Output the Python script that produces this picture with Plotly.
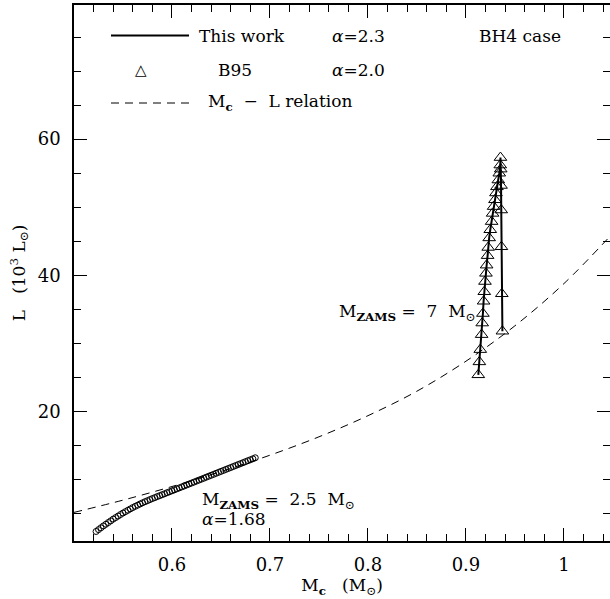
import plotly.graph_objects as go

# ---------------- data ----------------
# M_c - L relation (dashed)
rel_mc = [0.50, 0.55, 0.60, 0.65, 0.70, 0.75, 0.80, 0.85, 0.90, 0.95, 1.00, 1.05]
rel_L = [5.2, 7.0, 9.0, 11.2, 13.6, 16.3, 19.4, 23.0, 27.4, 32.6, 38.8, 46.2]

# M_ZAMS = 2.5 Msun track (open circles)
c_mc = [0.5225, 0.5250, 0.5275, 0.5300, 0.5325, 0.5350, 0.5375, 0.5400, 0.5425, 0.5450,
        0.5475, 0.5500, 0.5525, 0.5550, 0.5575, 0.5600, 0.5625, 0.5650, 0.5675, 0.5700,
        0.5725, 0.5750, 0.5775, 0.5800, 0.5825, 0.5850, 0.5875, 0.5900, 0.5925, 0.5950,
        0.5975, 0.6000, 0.6025, 0.6050, 0.6075, 0.6100, 0.6125, 0.6150, 0.6175, 0.6200,
        0.6225, 0.6250, 0.6275, 0.6300, 0.6325, 0.6350, 0.6375, 0.6400, 0.6425, 0.6450,
        0.6475, 0.6500, 0.6525, 0.6550, 0.6575, 0.6600, 0.6625, 0.6650, 0.6675, 0.6700,
        0.6725, 0.6750, 0.6775, 0.6800, 0.6825, 0.6850]
c_L = [2.40, 2.67, 2.94, 3.21, 3.46, 3.71, 3.96, 4.21, 4.44, 4.66,
       4.89, 5.11, 5.31, 5.51, 5.71, 5.91, 6.09, 6.26, 6.44, 6.61,
       6.77, 6.92, 7.08, 7.23, 7.37, 7.52, 7.66, 7.80, 7.94, 8.09,
       8.23, 8.37, 8.51, 8.66, 8.80, 8.94, 9.08, 9.23, 9.37, 9.51,
       9.65, 9.80, 9.94, 10.08, 10.22, 10.37, 10.51, 10.65, 10.79, 10.94,
       11.08, 11.22, 11.36, 11.51, 11.65, 11.79, 11.93, 12.08, 12.22, 12.36,
       12.50, 12.65, 12.79, 12.93, 13.07, 13.22]

# M_ZAMS = 7 Msun track (solid line + triangles)
t_mc = [0.9126, 0.9137, 0.9146, 0.9160, 0.9166, 0.9173, 0.9180, 0.9187, 0.9194, 0.9204,
        0.9211, 0.9221, 0.9227, 0.9237, 0.9248, 0.9262, 0.9272, 0.9282, 0.9296, 0.9306,
        0.9316, 0.9330, 0.9340, 0.9350, 0.9352, 0.9355, 0.9358, 0.9360, 0.9362, 0.9366,
        0.9372]
t_L = [25.4, 27.3, 29.1, 31.3, 33.0, 34.4, 36.2, 37.6, 39.1, 40.3,
       41.5, 42.9, 44.1, 45.5, 46.7, 47.9, 49.1, 50.1, 51.1, 52.1,
       53.0, 54.0, 55.0, 56.2, 57.3, 55.6, 53.2, 49.6, 44.2, 37.3,
       31.8]

x_ticks = [0.6, 0.7, 0.8, 0.9, 1.0]
x_ticktext = ["0.6", "0.7", "0.8", "0.9", "1"]
y_ticks = [20, 40, 60]
y_ticktext = ["20", "40", "60"]

FONT = "DejaVu Serif"
FS = 17
TFS = 18
NB = "\u00a0"

fig = go.Figure()
fig.add_trace(go.Scatter(x=rel_mc, y=rel_L, mode="lines",
                         line=dict(color="black", width=1, dash="8px,6px", shape="spline"),
                         showlegend=False, hoverinfo="skip"))
fig.add_trace(go.Scatter(x=c_mc, y=c_L, mode="markers",
                         marker=dict(symbol="circle-open", size=6, color="black",
                                     line=dict(width=1, color="black")),
                         showlegend=False))
fig.add_trace(go.Scatter(x=t_mc, y=t_L, mode="lines+markers",
                         line=dict(color="black", width=2),
                         marker=dict(symbol="triangle-up-open", size=11, color="black",
                                     line=dict(width=1, color="black")),
                         showlegend=False))

L0, R0, T0, B0 = 74, 0, 5, 58
W, H = 610, 599
PW = W - L0 - R0
PH = H - T0 - B0


def px(x):
    return (x - L0) / PW


def py(y):
    return (H - B0 - y) / PH


# legend block (drawn manually)
shapes = [
    dict(type="line", xref="paper", yref="paper", x0=px(111), x1=px(189), y0=py(35.5), y1=py(35.5),
         line=dict(color="black", width=2)),
    dict(type="line", xref="paper", yref="paper", x0=px(111), x1=px(191), y0=py(103), y1=py(103),
         line=dict(color="black", width=1, dash="8px,6px")),
]
ann = []


def txt(x, y, s, xanchor="left", xref="paper", yref="paper", size=FS):
    ann.append(dict(x=x, y=y, xref=xref, yref=yref, text=s, showarrow=False,
                    xanchor=xanchor, yanchor="middle", font=dict(family=FONT, size=size, color="black")))


txt(px(197), py(36), "This work")
txt(px(330), py(36), "<i>α</i>=2.3")
txt(px(477), py(36), "BH4 case")
txt(px(141), py(70), "△", xanchor="center", size=15)
txt(px(216), py(70), "B95")
txt(px(330), py(70), "<i>α</i>=2.0")
txt(px(206), py(102), "M<sub><b>c</b></sub>" + NB + NB + "−" + NB + NB + "L relation")

txt(0.9118, 34.6, "M<sub><b>ZAMS</b></sub>" + NB + "=" + NB + NB + "7" + NB + NB + "M<sub>⊙</sub>",
    xanchor="right", xref="x", yref="y")
txt(0.6286, 7.0, "M<sub><b>ZAMS</b></sub>" + NB + "=" + NB + NB + "2.5" + NB + NB + "M<sub>⊙</sub>",
    xref="x", yref="y")
txt(0.6286, 4.2, "<i>α</i>=1.68", xref="x", yref="y")

axis_common = dict(showline=True, linecolor="black", linewidth=1.5, mirror="allticks",
                   ticks="inside", ticklen=13, tickwidth=1.2, tickcolor="black",
                   showgrid=False, zeroline=False,
                   tickfont=dict(family=FONT, size=TFS, color="black"))

fig.update_xaxes(range=[0.5, 1.047], tickmode="array", tickvals=x_ticks, ticktext=x_ticktext,
                 minor=dict(ticks="inside", ticklen=7, tickwidth=1.2, tickcolor="black",
                            tickmode="linear", tick0=0.5, dtick=0.02),
                 ticklabelstandoff=7,
                 title=dict(text="M<sub><b>c</b></sub>" + NB * 3 + "(M<sub>⊙</sub>)",
                            font=dict(family=FONT, size=FS, color="black"), standoff=2),
                 **axis_common)
fig.update_yaxes(range=[1, 79.7], tickmode="array", tickvals=y_ticks, ticktext=y_ticktext,
                 minor=dict(ticks="inside", ticklen=7, tickwidth=1.2, tickcolor="black",
                            tickmode="linear", tick0=0, dtick=5),
                 ticklabelstandoff=8,
                 title=dict(text="L" + NB * 3 + "(10<sup>3</sup> L<sub>⊙</sub>)",
                            font=dict(family=FONT, size=FS, color="black"), standoff=8),
                 **axis_common)

fig.update_layout(width=W, height=H, margin=dict(l=L0, r=R0, t=T0, b=B0, autoexpand=False),
                  plot_bgcolor="white", paper_bgcolor="white",
                  shapes=shapes, annotations=ann, showlegend=False)

fig.write_html("out.html")
